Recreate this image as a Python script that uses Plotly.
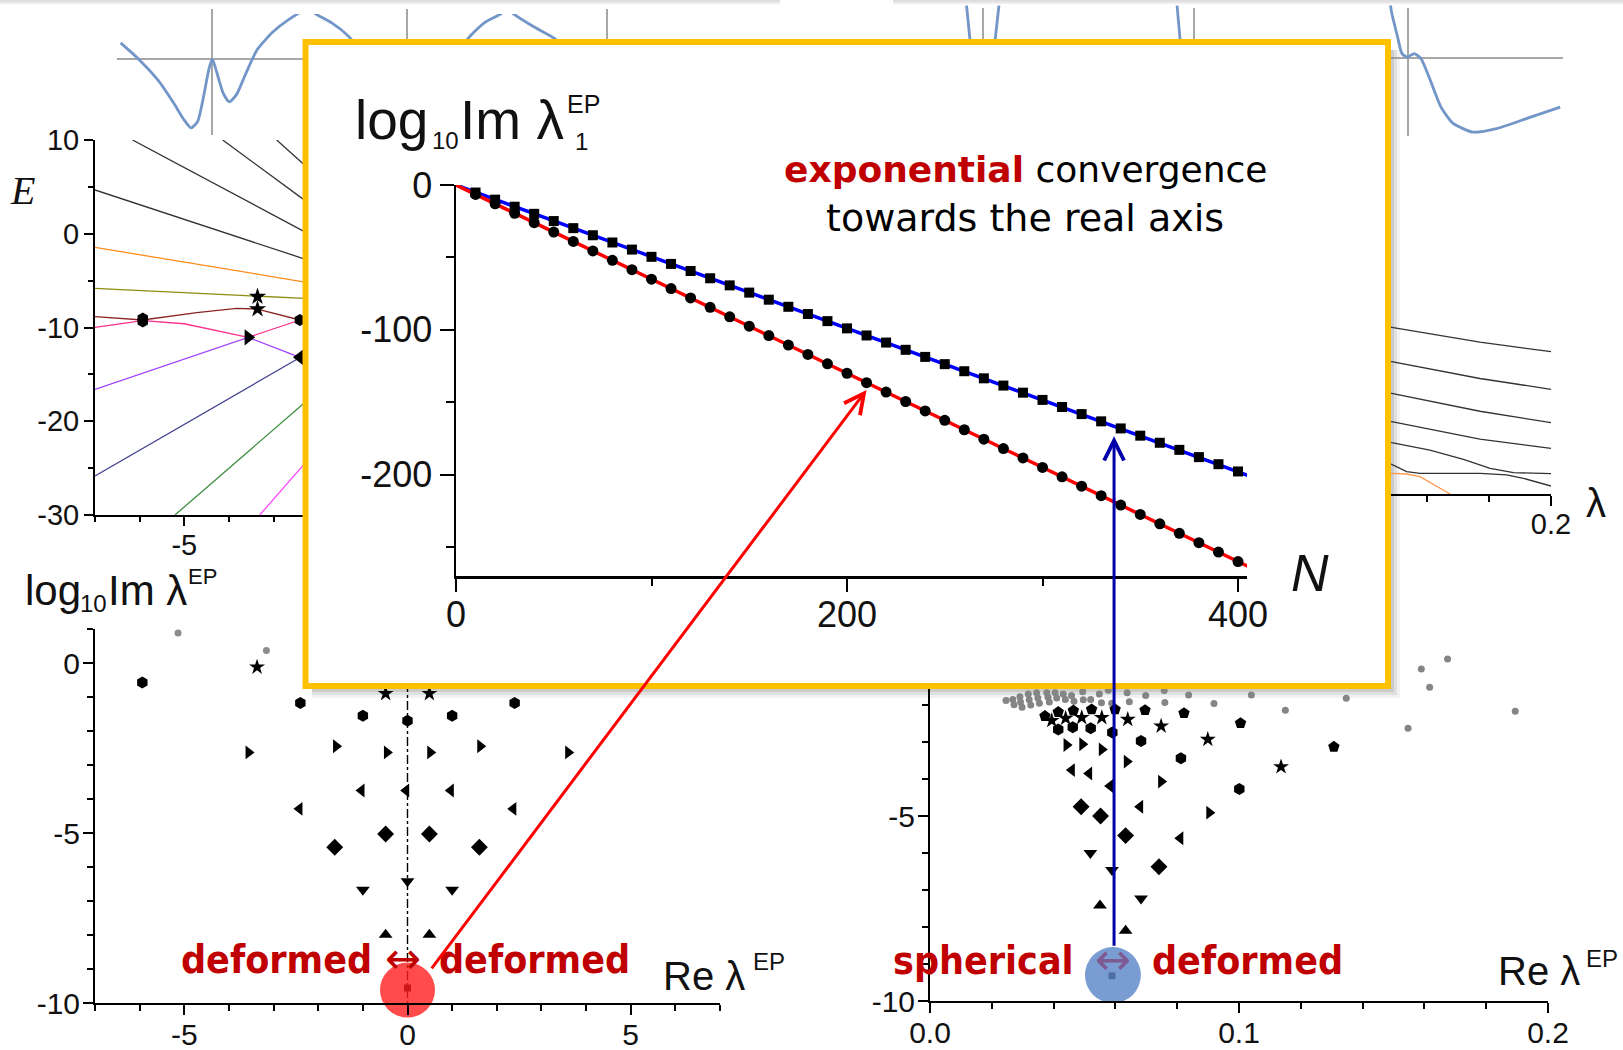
import plotly.graph_objects as go

W, H = 1623, 1050

# ---------------- DATA ----------------
# inset: log10 Im lambda_1^EP versus basis size N
N_vals = [10, 20, 30, 40, 50, 60, 70, 80, 90, 100, 110, 120, 130, 140, 150, 160, 170, 180, 190, 200,
          210, 220, 230, 240, 250, 260, 270, 280, 290, 300, 310, 320, 330, 340, 350, 360, 370, 380, 390, 400]
blue_sq = [-5.2, -10.1, -15.0, -19.9, -24.9, -29.8, -34.7, -39.7, -44.6, -49.6, -54.5, -59.4, -64.4, -69.3,
           -74.3, -79.2, -84.1, -89.1, -94.0, -99.0, -103.9, -108.8, -113.8, -118.7, -123.7, -128.6, -133.5,
           -138.5, -143.4, -148.4, -153.3, -158.2, -163.2, -168.1, -173.1, -178.0, -182.9, -187.9, -192.8, -197.8]
red_circ = [-6.5, -13.0, -19.5, -26.0, -32.5, -39.0, -45.5, -52.0, -58.5, -65.0, -71.5, -78.0, -84.5, -91.0,
            -97.5, -104.0, -110.5, -117.0, -123.5, -130.0, -136.5, -143.0, -149.5, -156.0, -162.5, -169.0,
            -175.5, -182.0, -188.5, -195.0, -201.5, -208.0, -214.5, -221.0, -227.5, -234.0, -240.5, -247.0,
            -253.5, -260.0]
fit_N = [0, 405]
blue_fit = [0, -200.5]
red_fit = [0, -263.3]
red_target = (210, -141.5)     # where the red arrow points
blue_target = (336.6, -173.5)  # where the blue arrow points

# potentials (top strips), coordinate q and value V
pot_l_q = [-1.828, -1.472, -1.076, -0.76, -0.562, -0.42, -0.286, -0.168, -0.064, 0.006, 0.11, 0.228, 0.346,
           0.49, 0.664, 0.9, 1.216, 1.532, 1.92, 2.086, 2.402, 2.72, 3.16, None,
           4.76, 5.17, 5.488, 5.764, 5.9, 6.04, 6.436, 6.872, 7.26]
pot_l_v = [0.644, 0.004, -0.856, -1.784, -2.424, -2.756, -2.496, -1.496, -0.424, 0.004, -0.64, -1.384, -1.712,
           -1.424, -0.64, 0.36, 1.076, 1.576, 2.0, 1.788, 1.432, 0.932, -0.12, None,
           -0.12, 0.932, 1.504, 1.788, 2.0, 1.788, 1.288, 0.788, -0.12]
pot_r_q = [-8.83, -8.74, None, -8.18, -8.28, None, -4.62, -4.54, None,
           -0.4, -0.334, -0.214, -0.12, -0.016, 0.128, 0.262, 0.46, 0.66, 0.898, 1.296, 1.772, 2.408, 3.044]
pot_r_v = [2.12, 0.32, None, 2.12, 0.32, None, 2.12, 0.32, None,
           3.1, 1.892, 0.892, 0.176, 0.036, 0.176, -0.036, -0.964, -1.964, -2.608, -2.964, -2.824, -2.396, -1.964]
pot_l_axes_q = [0.0, 3.9, 7.9]
pot_r_axes_q = [-8.5, -4.28, 0.0]

# upper-left spectrum E(lambda)
ul_black1_x = [-6.16, -2.3]; ul_black1_y = [10.0, 0.2]
ul_black2_x = [-4.14, -2.3]; ul_black2_y = [10.0, 3.56]
ul_black3_x = [-2.93, -2.3]; ul_black3_y = [10.0, 7.3]
ul_black4_x = [-7.0, -2.3]; ul_black4_y = [4.67, -2.7]
ul_orange_x = [-7.0, -2.3]; ul_orange_y = [-1.45, -5.15]
ul_olive_x = [-7.0, -5.1, -3.36, -2.3]; ul_olive_y = [-5.82, -6.25, -6.72, -6.9]
ul_brown_x = [-7.0, -5.93, -4.72, -3.83, -3.36, -2.86, -2.41, -2.3]
ul_brown_y = [-8.84, -9.2, -8.42, -7.96, -8.03, -8.67, -9.2, -9.3]
ul_pink_x = [-7.0, -5.93, -5.0, -4.13, -3.57, -2.41]; ul_pink_y = [-9.98, -9.27, -9.6, -10.45, -11.05, -9.2]
ul_purple_x = [-7.0, -3.57, -2.41]; ul_purple_y = [-16.6, -11.05, -13.18]
ul_navy_x = [-7.0, -2.41, -2.3]; ul_navy_y = [-25.84, -13.18, -12.9]
ul_green_x = [-5.21, -2.3]; ul_green_y = [-30.0, -18.0]
ul_magenta_x = [-3.31, -2.3]; ul_magenta_y = [-30.0, -24.5]
ul_hex_x = [-5.93, -5.93, -2.41]; ul_hex_y = [-9.05, -9.35, -9.2]
ul_star_x = [-3.36, -3.36]; ul_star_y = [-6.71, -8.03]
ul_trir_x = [-3.57]; ul_trir_y = [-11.05]
ul_tril_x = [-2.41]; ul_tril_y = [-13.18]

# upper-right spectrum E(lambda)
ur_l1_x = [0.145, 0.1487, 0.1771, 0.2]; ur_l1_y = [-11.0, -11.16, -12.85, -13.92]
ur_l2_x = [0.145, 0.1487, 0.1771, 0.2]; ur_l2_y = [-14.9, -15.05, -16.95, -18.17]
ur_l3_x = [0.145, 0.1487, 0.1771, 0.2]; ur_l3_y = [-18.5, -18.62, -20.65, -21.94]
ur_l4_x = [0.145, 0.1487, 0.1771, 0.2]; ur_l4_y = [-21.7, -21.83, -23.8, -24.84]
ur_l5_x = [0.145, 0.1487, 0.161, 0.1718, 0.1804, 0.1879, 0.2]
ur_l5_y = [-23.9, -24.2, -25.03, -26.08, -27.1, -27.59, -27.7]
ur_l6_x = [0.145, 0.1487, 0.1535, 0.1578, 0.1771, 0.1857, 0.1911, 0.2]
ur_l6_y = [-26.3, -26.65, -27.48, -27.66, -27.66, -27.85, -28.23, -29.1]
ur_or_x = [0.145, 0.1487, 0.1535, 0.1578, 0.1675]; ur_or_y = [-27.62, -27.66, -27.74, -28.04, -30.0]

# lower-left: exceptional points, deformed <-> deformed
ll_gray_x = [-5.14, -3.16]; ll_gray_y = [0.88, 0.37]
ll_hex_x = [-5.94, -2.4, 2.4, -1.0, 1.0, 0.0]; ll_hex_y = [-0.57, -1.18, -1.18, -1.55, -1.55, -1.7]
ll_star_x = [-3.37, -0.49, 0.49]; ll_star_y = [-0.12, -0.9, -0.9]
ll_trir_x = [-3.56, -1.6, -0.46, 0.51, 1.63, 3.6]; ll_trir_y = [-2.63, -2.45, -2.63, -2.63, -2.45, -2.63]
ll_tril_x = [-1.03, -0.03, 0.97, -2.42, 2.37]; ll_tril_y = [-3.75, -3.75, -3.75, -4.29, -4.29]
ll_diam_x = [-0.49, 0.49, -1.63, 1.61]; ll_diam_y = [-5.03, -5.03, -5.42, -5.42]
ll_trid_x = [0.0, -1.0, 1.0]; ll_trid_y = [-6.42, -6.67, -6.67]
ll_triu_x = [-0.49, 0.49]; ll_triu_y = [-7.99, -7.99]
ll_sq_x = [0.0]; ll_sq_y = [-9.56]
ll_ep_x = [0.0]; ll_ep_y = [-9.62]

# lower-right: exceptional points, spherical <-> deformed
lr_gray_x = [0.1675, 0.159, 0.1617, 0.1894, 0.1547, 0.1347, 0.115, 0.104, 0.0919, 0.0837, 0.076, 0.0698, 0.0638,
             0.0246, 0.0268, 0.0272, 0.0291, 0.0293, 0.0298, 0.0318, 0.0321, 0.0326, 0.0345, 0.0349, 0.0354,
             0.0378, 0.0382, 0.0386, 0.0405, 0.0410, 0.0431, 0.0438, 0.0458, 0.0466, 0.0494, 0.0496, 0.0520,
             0.0548, 0.0555, 0.0577, 0.0588, 0.0645, 0.0758]
lr_gray_y = [-0.76, -1.03, -1.52, -2.17, -2.63, -1.82, -2.14, -1.73, -1.96, -1.73, -1.93, -1.74, -1.67,
             -1.88, -1.85, -1.99, -1.78, -1.92, -2.06, -1.70, -1.86, -2.00, -1.67, -1.81, -1.95,
             -1.67, -1.79, -1.92, -1.67, -1.81, -1.70, -1.85, -1.74, -1.90, -1.64, -1.86, -1.85,
             -1.70, -1.94, -1.60, -1.95, -1.91, -1.61]
lr_pent_x = [0.0372, 0.0415, 0.0464, 0.0523, 0.0599, 0.0696, 0.0822, 0.1005, 0.1307]
lr_pent_y = [-2.30, -2.19, -2.15, -2.12, -2.12, -2.14, -2.22, -2.49, -3.13]
lr_star_x = [0.0394, 0.0439, 0.0491, 0.0556, 0.0640, 0.0748, 0.0899, 0.1136]
lr_star_y = [-2.42, -2.36, -2.34, -2.34, -2.39, -2.57, -2.93, -3.67]
lr_hex_x = [0.0415, 0.0462, 0.0520, 0.0590, 0.0683, 0.0812, 0.1001]
lr_hex_y = [-2.66, -2.60, -2.63, -2.74, -2.97, -3.44, -4.27]
lr_trir_x = [0.0442, 0.0493, 0.0556, 0.0637, 0.0748, 0.0904]
lr_trir_y = [-3.08, -3.06, -3.20, -3.53, -4.07, -4.91]
lr_tril_x = [0.0459, 0.0515, 0.0583, 0.068, 0.081]; lr_tril_y = [-3.76, -3.85, -4.19, -4.75, -5.6]
lr_diam_x = [0.0489, 0.0552, 0.0633, 0.0741]; lr_diam_y = [-4.75, -5.0, -5.53, -6.37]
lr_trid_x = [0.0519, 0.0589, 0.0683]; lr_trid_y = [-6.0, -6.46, -7.23]
lr_triu_x = [0.055, 0.0633]; lr_triu_y = [-7.42, -8.1]
lr_sq_x = [0.0589]; lr_sq_y = [-9.32]
lr_ep_x = [0.0592]; lr_ep_y = [-9.3]

# tick labels
ul_xticks = [-5, 0, 5]; ul_yticks = [10, 0, -10, -20, -30]
ll_xticks = [-5, 0, 5]; ll_yticks = [0, -5, -10]
r_xticks = [0, 0.1, 0.2]; r_xtext = ['0.0', '0.1', '0.2']
in_xticks = [0, 200, 400]; in_yticks = [0, -100, -200]

# ---------------- HELPERS ----------------
def fx(X): return X / W
def fy(Y): return 1 - Y / H
def xdom(a, b): return [a / W, b / W]
def ydom(top, bottom): return [1 - bottom / H, 1 - top / H]
def lab(v): return [('%g' % t) for t in v]

SANS = "Liberation Sans, Arial, sans-serif"
SERIF = "Liberation Serif, Times New Roman, serif"
DJ = "DejaVu Sans, Verdana, sans-serif"
DJC = "DejaVu Sans Condensed, Liberation Sans Narrow, DejaVu Sans, sans-serif"
RED = '#C00000'

fig = go.Figure()

def line(x, y, ax, color, width=1.3, dash=None):
    fig.add_trace(go.Scatter(x=x, y=y, mode='lines', xaxis='x' + ax, yaxis='y' + ax,
                             line=dict(color=color, width=width, dash=dash), hoverinfo='skip'))

def mark(x, y, ax, symbol, size, color='black', clip=True):
    fig.add_trace(go.Scatter(x=x, y=y, mode='markers', xaxis='x' + ax, yaxis='y' + ax, cliponaxis=clip,
                             marker=dict(symbol=symbol, size=size, color=color, line=dict(width=0)),
                             hoverinfo='skip'))

POT = '#7396c8'
# strips
fig.add_trace(go.Scatter(x=pot_l_q, y=pot_l_v, mode='lines', xaxis='x', yaxis='y',
                         line=dict(color=POT, width=2.8, shape='spline', smoothing=0.6),
                         hoverinfo='skip', connectgaps=False))
fig.add_trace(go.Scatter(x=pot_r_q, y=pot_r_v, mode='lines', xaxis='x2', yaxis='y2',
                         line=dict(color=POT, width=2.8, shape='spline', smoothing=0.6),
                         hoverinfo='skip', connectgaps=False))

# upper left
for xs, ys, c in [(ul_black1_x, ul_black1_y, '#333'), (ul_black2_x, ul_black2_y, '#333'),
                  (ul_black3_x, ul_black3_y, '#333'), (ul_black4_x, ul_black4_y, '#333'),
                  (ul_orange_x, ul_orange_y, '#ff8a20'), (ul_olive_x, ul_olive_y, '#8c8c10'),
                  (ul_brown_x, ul_brown_y, '#8b2525'), (ul_pink_x, ul_pink_y, '#ff3090'),
                  (ul_purple_x, ul_purple_y, '#a040ff'), (ul_navy_x, ul_navy_y, '#454590'),
                  (ul_green_x, ul_green_y, '#3c8c3c'), (ul_magenta_x, ul_magenta_y, '#ff45ff')]:
    line(xs, ys, '3', c)
mark(ul_hex_x, ul_hex_y, '3', 'hexagon', 12)
mark(ul_star_x, ul_star_y, '3', 'star', 13)
mark(ul_trir_x, ul_trir_y, '3', 'triangle-right', 14)
mark(ul_tril_x, ul_tril_y, '3', 'triangle-left', 14)

# upper right
for xs, ys, c in [(ur_l1_x, ur_l1_y, '#333'), (ur_l2_x, ur_l2_y, '#333'), (ur_l3_x, ur_l3_y, '#333'),
                  (ur_l4_x, ur_l4_y, '#333'), (ur_l5_x, ur_l5_y, '#333'), (ur_l6_x, ur_l6_y, '#333'),
                  (ur_or_x, ur_or_y, '#ff9a50')]:
    line(xs, ys, '4', c)

# lower left
line([0, 0], [1, -10], '5', 'black', 1.4, 'dashdot')
mark(ll_gray_x, ll_gray_y, '5', 'circle', 7, '#8c8c8c')
mark(ll_hex_x, ll_hex_y, '5', 'hexagon', 12)
mark(ll_star_x, ll_star_y, '5', 'star', 12)
mark(ll_trir_x, ll_trir_y, '5', 'triangle-right', 12)
mark(ll_tril_x, ll_tril_y, '5', 'triangle-left', 12)
mark(ll_diam_x, ll_diam_y, '5', 'diamond', 13)
mark(ll_trid_x, ll_trid_y, '5', 'triangle-down', 12)
mark(ll_triu_x, ll_triu_y, '5', 'triangle-up', 12)
mark(ll_sq_x, ll_sq_y, '5', 'square', 7)
mark(ll_ep_x, ll_ep_y, '5', 'circle', 55, 'rgba(255,30,30,0.80)', clip=False)

# lower right
mark(lr_gray_x, lr_gray_y, '6', 'circle', 7, '#858585')
mark(lr_pent_x, lr_pent_y, '6', 'pentagon', 12)
mark(lr_star_x, lr_star_y, '6', 'star', 12)
mark(lr_hex_x, lr_hex_y, '6', 'hexagon', 12)
mark(lr_trir_x, lr_trir_y, '6', 'triangle-right', 12)
mark(lr_tril_x, lr_tril_y, '6', 'triangle-left', 12)
mark(lr_diam_x, lr_diam_y, '6', 'diamond', 13)
mark(lr_trid_x, lr_trid_y, '6', 'triangle-down', 12)
mark(lr_triu_x, lr_triu_y, '6', 'triangle-up', 12)
mark(lr_sq_x, lr_sq_y, '6', 'square', 7)
mark(lr_ep_x, lr_ep_y, '6', 'circle', 56, 'rgba(92,135,200,0.82)', clip=False)

# inset background (white card)
fig.add_trace(go.Scatter(x=[0.5], y=[0.5], mode='markers', xaxis='x7', yaxis='y7',
                         marker=dict(opacity=0), hoverinfo='skip'))
# inset plot
line(fit_N, blue_fit, '8', '#0000ff', 3.5)
line(fit_N, red_fit, '8', '#ff0000', 3.5)
mark(N_vals, blue_sq, '8', 'square', 10)
mark(N_vals, red_circ, '8', 'circle', 11)

# ---------------- AXES ----------------
def vis_axis(anchor, domain, rng, tickvals, ticktext, size, ticklen, minor_dtick, minorlen, lw=2,
             standoff=0, minor_tick0=0):
    return dict(anchor=anchor, domain=domain, range=rng, showline=True, linecolor='black', linewidth=lw,
                ticks='outside', ticklen=ticklen, tickwidth=2, tickcolor='black',
                tickmode='array', tickvals=tickvals, ticktext=ticktext,
                tickfont=dict(family=SANS, size=size, color='#111'),
                minor=dict(ticks='outside', ticklen=minorlen, tickwidth=2, tickcolor='black',
                           tickmode='linear', tick0=minor_tick0, dtick=minor_dtick, showgrid=False),
                showgrid=False, zeroline=False, fixedrange=True, automargin=False,
                ticklabelstandoff=standoff)

def hidden(anchor, domain, rng):
    return dict(anchor=anchor, domain=domain, range=rng, visible=False, showgrid=False, zeroline=False,
                fixedrange=True, automargin=False)

layout_axes = dict(
    xaxis=hidden('y', xdom(100, 620), [-2.24, 8.16]),
    yaxis=hidden('x', ydom(14, 138), [-3.16, 1.8]),
    xaxis2=hidden('y2', xdom(940, 1575), [-9.36, 3.34]),
    yaxis2=hidden('x2', ydom(5.5, 138), [-3.2, 2.1]),
    xaxis3=vis_axis('y3', xdom(95, 720), [-7, 7], ul_xticks, lab(ul_xticks), 29, 9, 1, 5, standoff=-6),
    yaxis3=vis_axis('x3', ydom(140, 515), [-30, 10], ul_yticks, lab(ul_yticks), 29, 9, 5, 5, standoff=-1),
    xaxis4=vis_axis('y4', xdom(930, 1551), [0, 0.2], r_xticks, r_xtext, 29, 10, 0.02, 6, standoff=-7),
    yaxis4=hidden('x4', ydom(140, 494), [-30, 10]),
    xaxis5=vis_axis('y5', xdom(95, 720), [-7, 7], ll_xticks, lab(ll_xticks), 30, 10, 1, 6, standoff=-6),
    yaxis5=vis_axis('x5', ydom(629, 1003), [-10, 1], ll_yticks, lab(ll_yticks), 30, 10, 1, 6, standoff=-3),
    xaxis6=vis_axis('y6', xdom(930, 1548), [0, 0.2], r_xticks, r_xtext, 30, 10, 0.02, 6, standoff=-6),
    yaxis6=vis_axis('x6', ydom(612.5, 1001), [-10, 0.5], ll_yticks, lab(ll_yticks), 30, 10, 1, 6, standoff=-3),
    xaxis7=hidden('y7', xdom(305.5, 1388), [0, 1]),
    yaxis7=hidden('x7', ydom(42, 686), [0, 1]),
    xaxis8=vis_axis('y8', xdom(456, 1247), [0, 404.6], in_xticks, lab(in_xticks), 36, 13, 200, 7, lw=2.5,
                    standoff=-8, minor_tick0=100),
    yaxis8=vis_axis('x8', ydom(185, 576), [-270, 0], in_yticks, lab(in_yticks), 36, 14, 100, 8, lw=2.5,
                    standoff=0, minor_tick0=-50),
)

# ---------------- SHAPES ----------------
GRAY = '#8a8a8a'
shapes = []
shapes.append(dict(type='line', xref='x', yref='y', x0=-1.9, x1=8.16, y0=0, y1=0,
                   line=dict(color=GRAY, width=1.5), layer='below'))
for q in pot_l_axes_q:
    shapes.append(dict(type='line', xref='x', yref='paper', x0=q, x1=q, y0=fy(135), y1=fy(9),
                       line=dict(color=GRAY, width=1.5), layer='below'))
shapes.append(dict(type='line', xref='x2', yref='y2', x0=-9.3, x1=3.1, y0=0, y1=0,
                   line=dict(color=GRAY, width=1.5), layer='below'))
for q in pot_r_axes_q:
    shapes.append(dict(type='line', xref='x2', yref='paper', x0=q, x1=q, y0=fy(136), y1=fy(8),
                       line=dict(color=GRAY, width=1.5), layer='below'))
# faint edges of cards above
for (a, b) in [(0, 780), (893, 1623)]:
    shapes.append(dict(type='rect', xref='paper', yref='paper', x0=fx(a), x1=fx(b), y0=fy(4), y1=fy(0),
                       line=dict(width=0), fillcolor='rgba(0,0,0,0.07)', layer='below'))
    shapes.append(dict(type='rect', xref='paper', yref='paper', x0=fx(a), x1=fx(b), y0=fy(2), y1=fy(0),
                       line=dict(width=0), fillcolor='rgba(0,0,0,0.06)', layer='below'))
# drop shadow of the inset card
for d, a in [(9, 0.05), (6, 0.07), (3, 0.09)]:
    shapes.append(dict(type='rect', xref='paper', yref='paper', x0=fx(1391), x1=fx(1391 + d),
                       y0=fy(689 + d), y1=fy(50), line=dict(width=0), fillcolor='rgba(0,0,0,%g)' % a,
                       layer='below'))
    shapes.append(dict(type='rect', xref='paper', yref='paper', x0=fx(312), x1=fx(1391),
                       y0=fy(689 + d), y1=fy(689), line=dict(width=0), fillcolor='rgba(0,0,0,%g)' % a,
                       layer='below'))
# inset border
shapes.append(dict(type='rect', xref='paper', yref='paper', x0=fx(305.5), x1=fx(1388), y0=fy(686), y1=fy(42),
                   line=dict(color='#FFC000', width=6), fillcolor='rgba(0,0,0,0)', layer='above'))

# ---------------- ANNOTATIONS ----------------
anns = []
def ann(text, X, Y, size, family=SANS, color='#111', xanchor='center', yanchor='middle'):
    anns.append(dict(text=text, x=fx(X), y=fy(Y), xref='paper', yref='paper', showarrow=False,
                     xanchor=xanchor, yanchor=yanchor, borderpad=0, borderwidth=0,
                     font=dict(family=family, size=size, color=color)))

ann('<i>E</i>', 22, 190, 40, SERIF)
ann('λ', 1596, 503, 40)
# lower-left y label
ann('log', 25, 590.5, 42, xanchor='left')
ann('10', 80, 603.5, 24, xanchor='left')
ann('Im λ', 108, 590.5, 42, xanchor='left')
ann('EP', 188, 576.4, 22, xanchor='left')
# inset y label
ann('log', 355, 120.4, 55, xanchor='left')
ann('10', 432, 140.5, 24, xanchor='left')
ann('Im λ', 460, 120.4, 55, xanchor='left')
ann('EP', 567, 103.8, 25, xanchor='left')
ann('1', 575, 141.7, 24, xanchor='left')
# inset x label
ann('<i>N</i>', 1310, 573, 52)
# inset text
ann('<b><span style="color:#C00000">exponential</span></b> convergence', 1025, 169, 36, DJ, '#000')
ann('towards the real axis', 1025, 217.5, 38, DJ, '#000')
# lower x labels
ann('Re λ', 663, 976, 40, xanchor='left')
ann('EP', 753, 961.7, 24, xanchor='left')
ann('Re λ', 1498, 971, 40, xanchor='left')
ann('EP', 1586, 958.7, 24, xanchor='left')
# red texts
ann('<b>deformed</b>', 372, 959.5, 39, DJC, RED, xanchor='right')
ann('↔', 403, 958, 43, DJ, RED)
ann('<b>deformed</b>', 439, 959.5, 39, DJC, RED, xanchor='left')
ann('<b>spherical</b>', 1074, 960.5, 39, DJC, RED, xanchor='right')
ann('↔', 1113, 959, 43, DJ, '#7e5a92')
ann('<b>deformed</b>', 1152, 960.5, 39, DJC, RED, xanchor='left')

# arrows from the EPs to the inset lines
anns.append(dict(x=red_target[0], y=red_target[1], xref='x8', yref='y8', text='', showarrow=True,
                 ax=431 - 867, ay=970 - 390, axref='pixel', ayref='pixel', arrowcolor='#ff0000',
                 arrowwidth=3, arrowhead=5, arrowsize=1.3, standoff=0, startstandoff=0))
anns.append(dict(x=blue_target[0], y=blue_target[1], xref='x8', yref='y8', text='', showarrow=True,
                 ax=0, ay=947 - 436, axref='pixel', ayref='pixel', arrowcolor='#0000a8',
                 arrowwidth=3, arrowhead=5, arrowsize=1.3, standoff=0, startstandoff=0))

fig.update_layout(width=W, height=H, margin=dict(l=0, r=0, t=0, b=0, pad=0), template='none',
                  paper_bgcolor='white', plot_bgcolor='white', showlegend=False, hovermode=False,
                  font=dict(family=SANS, color='#111'), shapes=shapes, annotations=anns, **layout_axes)

fig.write_html("out.html", config={'displayModeBar': False, 'staticPlot': True},
               post_script="document.body.style.margin='0';document.body.style.overflow='hidden';")
